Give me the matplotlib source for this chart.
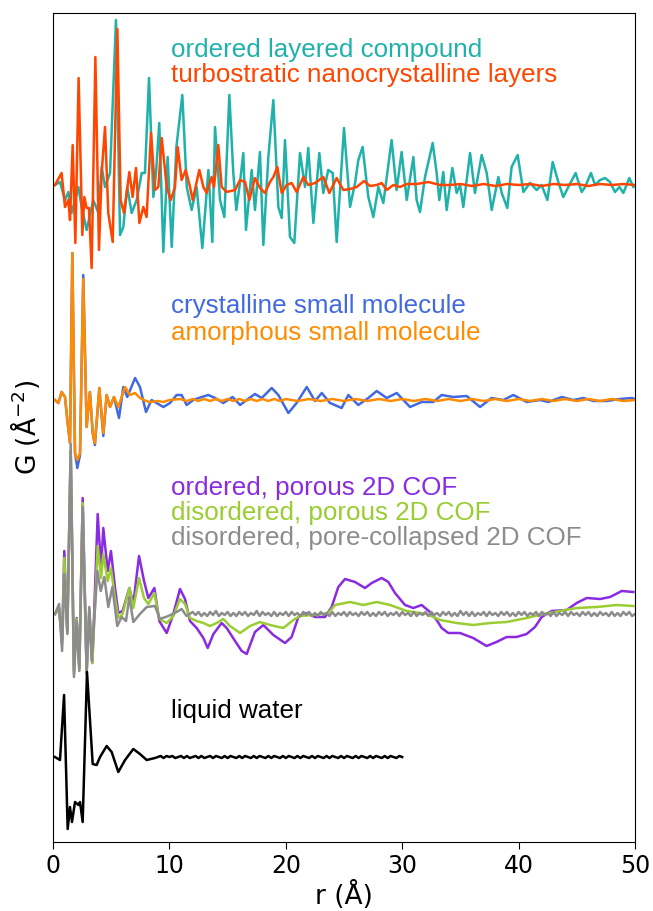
import matplotlib.pyplot as plt

# r in Angstrom, G in arbitrary units (relative to each trace's own baseline)

# ordered layered compound
r_layered = [0.17, 0.6, 1.03, 1.32, 1.6, 2.18, 2.46, 2.89, 3.46, 3.9, 4.18, 4.47, 4.9, 5.41, 5.76,
             6.04, 6.38, 6.76, 7.19, 7.62, 7.9, 8.25, 8.62, 8.85, 9.13, 9.48, 9.85, 10.2, 10.6, 11.11,
             11.49, 11.91, 12.34, 12.83, 13.35, 13.69, 13.92, 14.35, 14.72, 15.15, 15.49, 15.75, 16.07,
             16.35, 16.58, 17.07, 17.35, 17.78, 18.07, 18.5, 18.93, 19.36, 19.65, 19.93, 20.36, 20.73,
             21.22, 21.65, 21.93, 22.37, 22.88, 23.22, 23.65, 24.03, 24.37, 25.0, 25.52, 25.95, 26.23,
             26.6, 27.09, 27.52, 27.95, 28.38, 29.09, 29.52, 29.95, 30.39, 30.96, 31.24, 31.53, 31.96,
             32.62, 32.96, 33.19, 33.53, 33.82, 34.31, 34.68, 34.97, 35.25, 35.83, 36.25, 36.83, 37.26,
             37.69, 38.26, 38.55, 39.03, 39.4, 39.92, 40.41, 40.98, 41.55, 41.98, 42.47, 42.93, 43.41,
             43.84, 44.27, 44.9, 45.42, 45.71, 46.22, 46.57, 47.0, 47.43, 47.85, 48.28, 48.66, 49.0,
             49.51, 49.86]
g_layered = [0, 3, -15, -7, -28, -2, -22, -45, -15, -28, 18, -2, 12, 165, -50,
             -42, -2, -28, -15, 12, 12, 107, -12, 12, 62, -67, 28, -62, 38, 90,
             -2, -25, -2, -63, 15, -57, 58, -15, -32, 90, 12, -25, 3,
             32, -45, 15, -25, 33, -60, 28, 85, -22, -33, 45, -52, -58,
             32, -2, 37, -38, 32, -8, 15, 12, -57, 57, -22, 2, 25,
             38, -12, -32, -2, -18, 45, -5, 33, -15, 28, -15, -27, 8,
             42, 12, -15, 13, -25, 17, -8, 0, -22, 32, -8, 30, 12,
             -25, 8, -8, -23, 18, 30, -7, 2, -5, 0, -15, 23, 3,
             -12, -2, 12, -7, -2, 12, 0, 5, 7, 3, -7, -2, -8,
             7, -2]

# turbostratic nanocrystalline layers
r_turbo = [0.17, 0.74, 1.03, 1.32, 1.46, 1.69, 1.92, 2.2, 2.52, 2.69, 2.89, 3.09, 3.32, 3.64, 3.95,
           4.18, 4.47, 4.75, 5.13, 5.53, 5.81, 6.1, 6.56, 6.84, 7.13, 7.42, 7.76, 8.04, 8.42, 8.76,
           9.05, 9.34, 9.77, 10.11, 10.48, 10.71, 11.05, 11.4, 11.77, 12.0, 12.57, 12.92, 13.2, 13.63,
           13.83, 14.2, 14.49, 14.92, 15.64, 16.07, 16.5, 16.87, 17.35, 17.78, 18.21, 18.64, 18.93,
           19.27, 19.65, 20.07, 20.5, 20.93, 21.51, 21.93, 22.51, 23.22, 23.74, 24.37, 24.94, 25.52,
           26.09, 26.72, 27.23, 27.81, 28.24, 28.67, 29.24, 29.81, 30.39, 31.24, 32.25, 33.25, 34.1,
           35, 36, 37, 38, 39, 40, 41, 42, 43, 44, 45, 46, 47, 48, 49, 50]
g_turbo = [0, 12, -22, -15, -35, 40, -58, 107, -50, -12, -23, -23, -83, 128, -65,
           12, 58, -28, -57, 156, -15, -28, 13, -12, 17, -38, -22, -32, 52, -5,
           -2, 47, -2, -15, -2, 38, 5, 15, -2, -15, 15, -2, -8, 8,
           -2, 40, -2, -7, -5, 5, 3, -15, 7, -3, -8, 3, 8,
           18, -8, 0, 2, -7, 8, 0, 2, 8, -8, 7, -5, -4,
           -2, 4, -1, 0, 2, -5, 0, -2, 1, 1, 3, 0, 0,
           1, -1, 1, -1, 1, 0, 1, -1, 1, 0, 1, -1, 1, 0, 1, 0]

# crystalline small molecule
r_cryst = [0.17, 0.46, 0.74, 1.03, 1.23, 1.46, 1.66, 1.89, 2.09, 2.32, 2.6, 2.89, 3.17, 3.41, 3.6,
           3.98, 4.32, 4.61, 4.9, 5.24, 5.67, 6.04, 6.38, 7.05, 7.47, 7.99, 8.47, 8.9, 9.48, 10.05,
           10.62, 11.05, 11.48, 12.05, 12.77, 13.35, 13.92, 14.63, 15.43, 16.07, 16.64, 17.35, 17.93,
           18.79, 19.36, 20.22, 20.93, 21.8, 22.51, 23.09, 23.8, 24.8, 25.37, 26.23, 27.09, 27.81,
           28.67, 29.53, 30.67, 31.67, 32.67, 33.39, 34.4, 35.54, 36.69, 37.68, 38.69, 39.55, 40.7,
           41.84, 42.56, 43.71, 44.71, 45.57, 46.43, 47.57, 48.72, 49.72, 50]
g_cryst = [0, -3, 8, 3, -20, -43, 147, -53, -68, -55, 125, -27, 8, -33, -45,
           12, -36, 5, -7, 3, -18, 13, 3, 22, 13, -12, 0, -3, -7, -3,
           5, 5, -5, 0, 3, 5, 2, -3, 3, -5, 0, 6, 2,
           12, 5, -13, -3, 13, -1, 7, -3, -8, 5, -5, 2, 9,
           2, 7, -7, -2, -2, 5, 3, 4, -7, 2, 0, 5, -2,
           0, -2, 3, 0, 2, -1, -1, 1, 2, 1]

# amorphous small molecule
r_amorph = [0.17, 0.46, 0.74, 1.03, 1.23, 1.46, 1.66, 1.89, 2.09, 2.32, 2.6, 2.89, 3.17, 3.41, 3.6,
            3.98, 4.32, 4.61, 4.9, 5.24, 5.61, 6.19, 6.61, 7.05, 7.47, 8.0, 8.33, 9.0, 9.48, 10.0,
            10.91, 11.5, 12, 12.5, 13, 13.5, 14, 14.5, 15, 15.5, 16, 16.5, 17, 17.5, 18, 18.5, 19,
            19.5, 20, 21, 22, 23, 24, 25, 26, 27, 28, 29, 30, 31, 32, 33, 34, 35, 36, 37, 38, 39,
            40, 41, 42, 43, 44, 45, 46, 47, 48, 49, 50]
g_amorph = [0, -3, 8, 3, -20, -43, 147, -53, -60, -53, 121, -27, 8, -33, -43,
            12, -33, 5, -7, 3, -7, 13, 5, 7, 2, -1, -2, -1, -2, 0,
            1, -1, 1, -1, 1, -1, 1, -1, 1, -1, 1, -1, 1, -1, 1, -1, 1,
            -1, 1, -1, 1, -1, 1, -1, 1, -1, 1, -1, 1, -1, 1, -1, 1, -1, 1, -1, 1, -1,
            1, -1, 1, -1, 1, -1, 1, -1, 1, -1, 0]

# ordered, porous 2D COF
r_cof_ord = [0.17, 0.52, 0.78, 0.97, 1.23, 1.52, 1.8, 2.03, 2.26, 2.55, 2.89, 3.12, 3.38, 3.84, 4.13,
             4.32, 4.7, 4.98, 5.33, 5.61, 5.98, 6.56, 6.9, 7.39, 7.82, 8.19, 8.71, 9.13, 9.77, 10.34,
             10.91, 11.34, 11.77, 12.34, 12.92, 13.29, 13.78, 14.49, 14.92, 15.64, 16.21, 16.64, 17.35,
             18.07, 18.93, 19.93, 20.5, 21.08, 21.8, 22.51, 23.37, 23.94, 24.51, 25.09, 25.95, 26.8,
             27.38, 28.24, 28.81, 29.38, 30.24, 30.96, 31.67, 32.39, 32.96, 33.39, 33.96, 34.96, 36.1,
             37.25, 38.1, 38.97, 39.83, 40.69, 41.41, 41.98, 42.84, 44.13, 44.99, 45.85, 47.0, 47.86,
             48.86, 49.86]
g_cof_ord = [0, 6, -27, 63, -17, 163, -57, -4, -54, 116, -57, 3, -49, 100, 46,
             86, 43, 63, 26, 1, 3, 26, 10, 58, 33, 16, 26, -7, -19, 0,
             25, 15, -7, -14, -24, -34, -20, -9, -14, -27, -37, -40, -18,
             -11, -21, -29, -23, -3, 1, -3, -3, 7, 27, 35, 32, 26,
             31, 36, 32, 21, 9, 6, 9, 2, -6, -14, -19, -19, -24,
             -32, -28, -23, -23, -20, -13, -3, 3, 4, 11, 16, 15, 17,
             23, 22]

# disordered, porous 2D COF
r_cof_dis = [0.17, 0.52, 0.78, 0.97, 1.23, 1.52, 1.8, 2.03, 2.26, 2.55, 2.89, 3.12, 3.38, 3.84, 4.13,
             4.32, 4.7, 4.98, 5.33, 5.61, 5.98, 6.56, 6.9, 7.39, 7.82, 8.19, 8.71, 9.13, 9.77, 10.34,
             10.91, 11.34, 11.77, 12.34, 12.92, 13.49, 14.06, 14.63, 15.2, 16.07, 16.93, 17.78, 18.64,
             19.79, 20.65, 21.22, 22.37, 23.65, 24.23, 25.52, 26.66, 27.81, 28.96, 30.39, 32.1, 33.25,
             34.68, 36.1, 37.54, 38.97, 40.69, 42.12, 43.55, 44.99, 46.71, 48.43, 49.86]
g_cof_dis = [0, 5, -30, 56, -19, 163, -60, -5, -55, 111, -59, 5, -49, 68, 36,
             60, 33, 46, 16, -4, 0, 26, 6, 36, 16, 10, 21, -5, -9, -2,
             15, 10, -4, -7, -9, -12, -9, -5, -12, -19, -12, -8, -11,
             -14, -6, -2, -1, 1, 9, 12, 9, 12, 9, 3, 0, -6,
             -9, -11, -9, -8, -4, 0, 3, 6, 7, 9, 8]

# disordered, pore-collapsed 2D COF
r_cof_col = [0.17, 0.52, 0.78, 0.97, 1.23, 1.52, 1.8, 2.03, 2.26, 2.55, 2.89, 3.12, 3.32, 3.81, 4.1,
             4.41, 4.75, 5.1, 5.52, 5.9, 6.27, 6.56, 6.9, 7.47, 8.05, 8.76, 9.19, 9.91, 10.62, 11.05,
             11.48,
             12.0, 12.25, 12.5, 12.75, 13.0, 13.25, 13.5, 13.75, 14.0, 14.25, 14.5, 14.75,
             15.0, 15.25, 15.5, 15.75, 16.0, 16.25, 16.5, 16.75, 17.0, 17.25, 17.5, 17.75,
             18.0, 18.25, 18.5, 18.75, 19.0, 19.25, 19.5, 19.75, 20.0, 20.25, 20.5, 20.75,
             21.0, 21.25, 21.5, 21.75, 22.0, 22.25, 22.5, 22.75, 23.0, 23.25, 23.5, 23.75,
             24.0, 24.25, 24.5, 24.75, 25.0, 25.25, 25.5, 25.75, 26.0, 26.25, 26.5, 26.75,
             27.0, 27.25, 27.5, 27.75, 28.0, 28.25, 28.5, 28.75, 29.0, 29.25, 29.5, 29.75,
             30.0, 30.25, 30.5, 30.75, 31.0, 31.25, 31.5, 31.75, 32.0, 32.25, 32.5, 32.75,
             33.0, 33.25, 33.5, 33.75, 34.0, 34.25, 34.5, 34.75, 35.0, 35.25, 35.5, 35.75,
             36.0, 36.25, 36.5, 36.75, 37.0, 37.25, 37.5, 37.75, 38.0, 38.25, 38.5, 38.75,
             39.0, 39.25, 39.5, 39.75, 40.0, 40.25, 40.5, 40.75, 41.0, 41.25, 41.5, 41.75,
             42.0, 42.25, 42.5, 42.75, 43.0, 43.25, 43.5, 43.75, 44.0, 44.25, 44.5, 44.75,
             45.0, 45.25, 45.5, 45.75, 46.0, 46.25, 46.5, 46.75, 47.0, 47.25, 47.5, 47.75,
             48.0, 48.25, 48.5, 48.75, 49.0, 49.25, 49.5, 49.75, 50.0]
g_cof_col = [0, 10, -37, 40, -20, 170, -63, -7, -57, 107, -60, 7, -47, 43, 23,
             37, 7, 27, -12, -3, -7, 17, -8, 0, 7, 8, -5, -2, 2, 5,
             -2,
             2, -1, 2, -2, 1, -2, 2, -1, 3, -2, 1, -1,
             2, -2, 1, -2, 2, -1, 2, -2, 1, -1, 3, -2,
             2, -1, 1, -2, 2, -2, 1, -1, 2, -2, 2, -1,
             1, -2, 2, -1, 2, -2, 1, -2, 2, -1, 1, -2,
             2, -2, 1, -1, 2, -2, 2, -1, 1, -2, 2, -1,
             2, -2, 1, -2, 2, -1, 2, -2, 1, -1, 2, -2,
             2, -1, 1, -2, 2, -2, 1, -1, 2, -2, 2, -1,
             1, -2, 2, -1, 2, -2, 1, -2, 3, -1, 2, -2,
             2, -2, 1, -1, 2, -2, 2, -1, 1, -2, 2, -1,
             2, -2, 1, -2, 2, -1, 2, -2, 1, -1, 2, -2,
             2, -1, 1, -2, 2, -2, 1, -1, 2, -2, 2, -1,
             1, -2, 2, -1, 2, -2, 1, -2, 2, -1, 1, -2,
             2, -2, 1, -2, 2, -1, 2, -2, 0]

# liquid water
r_water = [0.17, 0.6, 0.95, 1.26, 1.46, 1.63, 1.89, 2.18, 2.32, 2.55, 2.92, 3.41, 3.75, 4.04, 4.61,
           5.04, 5.61, 6.19, 6.9, 7.47, 8.05, 8.76,
           9.25, 9.5, 9.75, 10.0, 10.25, 10.5, 10.75, 11.0, 11.25, 11.5, 11.75, 12.0,
           12.25, 12.5, 12.75, 13.0, 13.25, 13.5, 13.75, 14.0, 14.25, 14.5, 14.75, 15.0,
           15.25, 15.5, 15.75, 16.0, 16.25, 16.5, 16.75, 17.0, 17.25, 17.5, 17.75, 18.0,
           18.25, 18.5, 18.75, 19.0, 19.25, 19.5, 19.75, 20.0, 20.25, 20.5, 20.75, 21.0,
           21.25, 21.5, 21.75, 22.0, 22.25, 22.5, 22.75, 23.0, 23.25, 23.5, 23.75, 24.0,
           24.25, 24.5, 24.75, 25.0, 25.25, 25.5, 25.75, 26.0, 26.25, 26.5, 26.75, 27.0,
           27.25, 27.5, 27.75, 28.0, 28.25, 28.5, 28.75, 29.0, 29.25, 29.5, 29.75, 30.0]
g_water = [0, -3, 62, -72, -50, -65, -45, -48, -45, -65, 85, -7, -8, 0, 11,
           5, -15, -3, 8, 3, -3, -1,
           1, -1, 1, 0, 1, -1, 0, 1, -1, 1, -1, 0,
           1, -1, 1, -1, 0, 1, -1, 1, 0, -1, 1, -1,
           1, 0, -1, 1, -1, 1, 0, -1, 1, -1, 1, 0,
           -1, 1, -1, 1, 0, -1, 1, -1, 1, 0, -1, 1,
           -1, 1, 0, -1, 1, -1, 1, 0, -1, 1, -1, 1,
           0, -1, 1, -1, 1, 0, -1, 1, -1, 1, 0, -1,
           1, -1, 1, 0, -1, 1, -1, 1, 0, -1, 1, 0]

traces = [
    (r_layered, g_layered, 657, '#20b2aa'),
    (r_turbo, g_turbo, 657, '#ff4500'),
    (r_cryst, g_cryst, 442, '#4169e1'),
    (r_amorph, g_amorph, 442, '#ff8c00'),
    (r_cof_ord, g_cof_ord, 228, '#8a2be2'),
    (r_cof_dis, g_cof_dis, 228, '#9acd32'),
    (r_cof_col, g_cof_col, 228, '#8c8c8c'),
    (r_water, g_water, 85, 'black'),
]

labels = [
    ("ordered layered compound", 785, '#20b2aa'),
    ("turbostratic nanocrystalline layers", 760, '#ff4500'),
    ("crystalline small molecule", 529, '#4169e1'),
    ("amorphous small molecule", 502, '#ff8c00'),
    ("ordered, porous 2D COF", 347, '#8a2be2'),
    ("disordered, porous 2D COF", 322, '#9acd32'),
    ("disordered, pore-collapsed 2D COF", 297, '#8c8c8c'),
    ("liquid water", 124, 'black'),
]

fig = plt.figure(figsize=(6.53, 9.11), dpi=100)
ax = fig.add_axes([53 / 653, 69 / 911, 582 / 653, 829 / 911])

for r, g, offset, color in traces:
    ax.plot(r, [v + offset for v in g], color=color, lw=1.8)

for text, y, color in labels:
    ax.text(10.1, y, text, color=color, fontsize=18.7, family='Liberation Sans')

ax.set_xlim(0, 50)
ax.set_ylim(0, 829)
ax.set_yticks([])
ax.tick_params(axis='x', labelsize=17, length=5)
ax.set_xlabel("r (Å)", fontsize=19, labelpad=2)
ax.set_ylabel("G (Å$^{-2}$)", fontsize=19, labelpad=8)

fig.savefig("out.png", dpi=100)
